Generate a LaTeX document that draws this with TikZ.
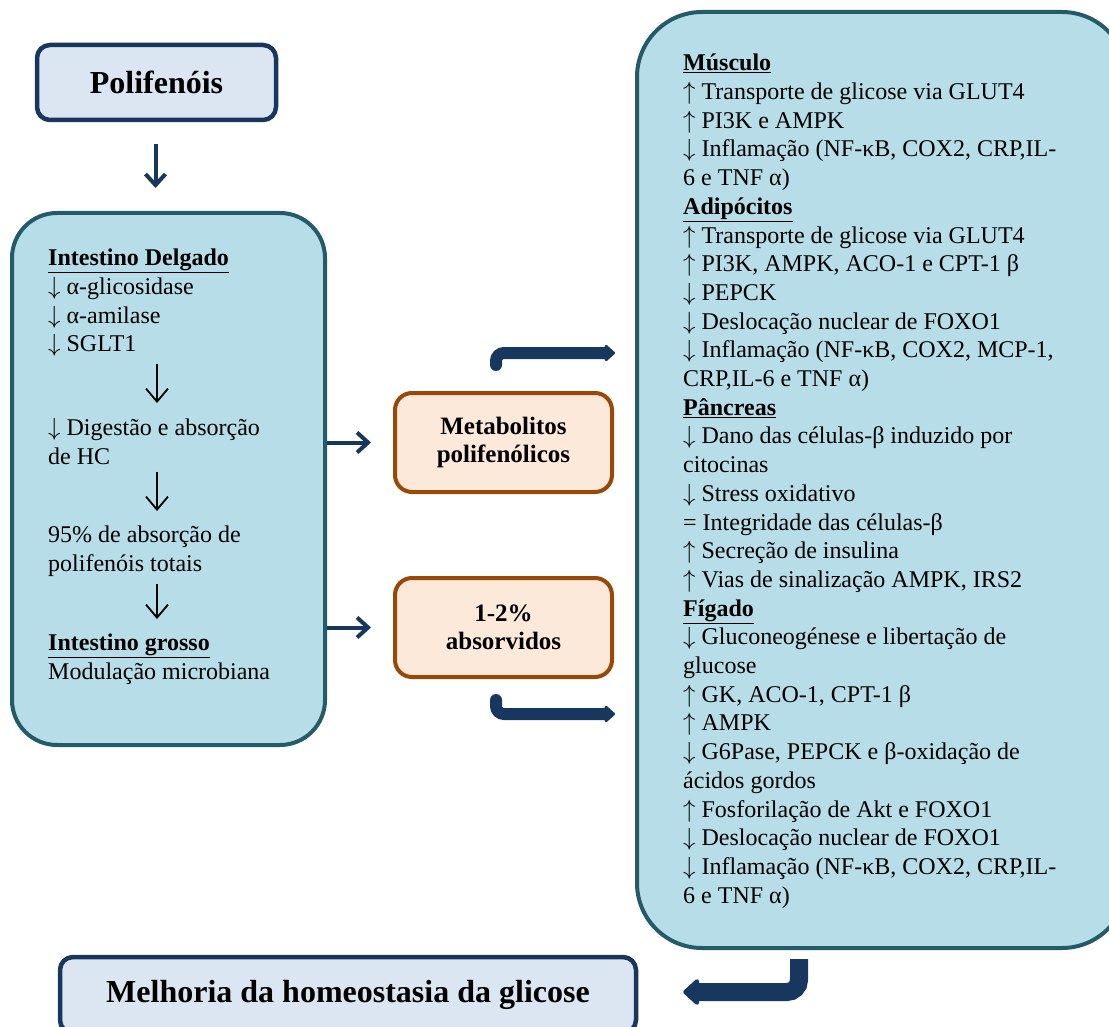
\documentclass[tikz,border=0pt]{standalone}
\usepackage{fontspec}
\setmainfont{Liberation Serif}
\usetikzlibrary{arrows.meta}
\usetikzlibrary{calc}
\definecolor{tealedge}{HTML}{245B69}
\definecolor{aquafill}{HTML}{B7DEE8}
\definecolor{navyedge}{HTML}{17375E}
\definecolor{paleblue}{HTML}{DCE6F2}
\definecolor{rustedge}{HTML}{984807}
\definecolor{peachfill}{HTML}{FDE9D9}
\newcommand{\incr}{$\uparrow$}
\newcommand{\decr}{$\downarrow$}

\begin{document}
\begin{tikzpicture}[x=1pt,y=1pt,yscale=-1,xscale=1,
  organbox/.style={draw=tealedge, line width=4pt, fill=aquafill, rounded corners=45pt, inner sep=0pt},
  titlebox/.style={draw=navyedge, line width=4.5pt, fill=paleblue, rounded corners=13pt, inner sep=0pt, font=\fontsize{32}{36}\selectfont\bfseries},
  metabox/.style={draw=rustedge, line width=4pt, fill=peachfill, rounded corners=17pt, inner sep=0pt, align=center, minimum width=217pt, minimum height=99pt, font=\fontsize{25}{28}\selectfont\bfseries},
  bodytext/.style={inner sep=0pt, align=left, anchor=north west, font=\fontsize{24}{28.7}\selectfont},
  glypharrow/.style={line width=1.8pt, -{Straight Barb[length=13pt,width=22pt]}},
  navyarrow/.style={draw=navyedge, line width=4pt, -{Straight Barb[length=11pt,width=20pt]}},
  bentarrow/.style={draw=navyedge, line width=12pt, rounded corners=8pt, line cap=round, -{Triangle[length=11pt,width=19pt,round]}},
  bigbentarrow/.style={draw=navyedge, line width=18pt, rounded corners=12pt, -{Triangle[length=17pt,width=30pt,round]}}]
\clip (0,0) rectangle (1109,1027);

%Rounded boxes
\node[titlebox, minimum width=239pt, minimum height=75pt] (polif) at (156.5,82.5) {Polifenóis};
\node[organbox, minimum width=313pt, minimum height=532pt] (intest) at (168.5,479) {};
\node[organbox, rounded corners=65pt, minimum width=490pt, minimum height=936pt, anchor=north west] (orgaos) at (635,10) {};
\node[metabox] (meta) at (503.5,442.5) {Metabolitos\\polifenólicos};
\node[metabox] (absorb) at (503.5,627.5) {1-2\%\\absorvidos};
\node[titlebox, minimum width=576pt, minimum height=76pt] (melh) at (348,995) {Melhoria da homeostasia da glicose};

% Text Node
\node[bodytext] (delg) at (48,249) {\underline{\textbf{Intestino Delgado}}\\
\decr{} α-glicosidase\\
\decr{} α-amilase\\
\decr{} SGLT1};
% Text Node
\node[bodytext] (digest) at (48,418) {\decr{} Digestão e absorção\\
de HC};
% Text Node
\node[bodytext] (poltot) at (48,526) {95\% de absorção de\\
polifenóis totais};
% Text Node
\node[bodytext] (grosso) at (48,634) {\underline{\textbf{Intestino grosso}}\\
Modulação microbiana};

% Text Node
\node[bodytext] (orgtxt) at (683,54) {\underline{\textbf{Músculo}}\\
\incr{} Transporte de glicose via GLUT4\\
\incr{} PI3K e AMPK\\
\decr{} Inflamação (NF-κB, COX2, CRP,IL-\\
6 e TNF α)\\
\underline{\textbf{Adipócitos}}\\
\incr{} Transporte de glicose via GLUT4\\
\incr{} PI3K, AMPK, ACO-1 e CPT-1 β\\
\decr{} PEPCK\\
\decr{} Deslocação nuclear de FOXO1\\
\decr{} Inflamação (NF-κB, COX2, MCP-1,\\
CRP,IL-6 e TNF α)\\
\underline{\textbf{Pâncreas}}\\
\decr{} Dano das células-β induzido por\\
citocinas\\
\decr{} Stress oxidativo\\
= Integridade das células-β\\
\incr{} Secreção de insulina\\
\incr{} Vias de sinalização AMPK, IRS2\\
\underline{\textbf{Fígado}}\\
\decr{} Gluconeogénese e libertação de\\
glucose\\
\incr{} GK, ACO-1, CPT-1 β\\
\incr{} AMPK\\
\decr{} G6Pase, PEPCK e β-oxidação de\\
ácidos gordos\\
\incr{} Fosforilação de Akt e FOXO1\\
\decr{} Deslocação nuclear de FOXO1\\
\decr{} Inflamação (NF-κB, COX2, CRP,IL-\\
6 e TNF α)};

%Arrows inside the intestine box
\draw[glypharrow] ([xshift=109pt,yshift=7pt]delg.south west) -- ([xshift=109pt,yshift=-15pt]digest.north west);
\draw[glypharrow] ([xshift=109pt,yshift=7pt]digest.south west) -- ([xshift=109pt,yshift=-15pt]poltot.north west);
\draw[glypharrow] ([xshift=109pt,yshift=7pt]poltot.south west) -- ([xshift=109pt,yshift=-15pt]grosso.north west);

%Straight arrows
\draw[navyarrow] ($(polif.south)+(-1,22)$) -- ($(polif.south |- intest.north)+(-1,-23)$);
\draw[navyarrow] (intest.east |- meta.west) -- ($(meta.west)+(-22,0)$);
\draw[navyarrow] (intest.east |- absorb.west) -- ($(absorb.west)+(-22,0)$);

%Bent arrows
\coordinate (upstart) at ($(meta.north)+(-7.5,-26)$);
\coordinate (upend) at ($(meta.north -| orgaos.west)+(-20,-38)$);
\draw[bentarrow] (upstart) |- (upend);
\coordinate (lowstart) at ($(absorb.south)+(-7.5,21)$);
\coordinate (lowend) at ($(absorb.south -| orgaos.west)+(-20,35)$);
\draw[bentarrow] (lowstart) |- (lowend);
\coordinate (downstart) at ($(orgaos.south)+(-83,9)$);
\coordinate (downend) at ($(melh.east)+(45,-3)$);
\draw[bigbentarrow] (downstart) |- (downend);

\end{tikzpicture}
\end{document}
